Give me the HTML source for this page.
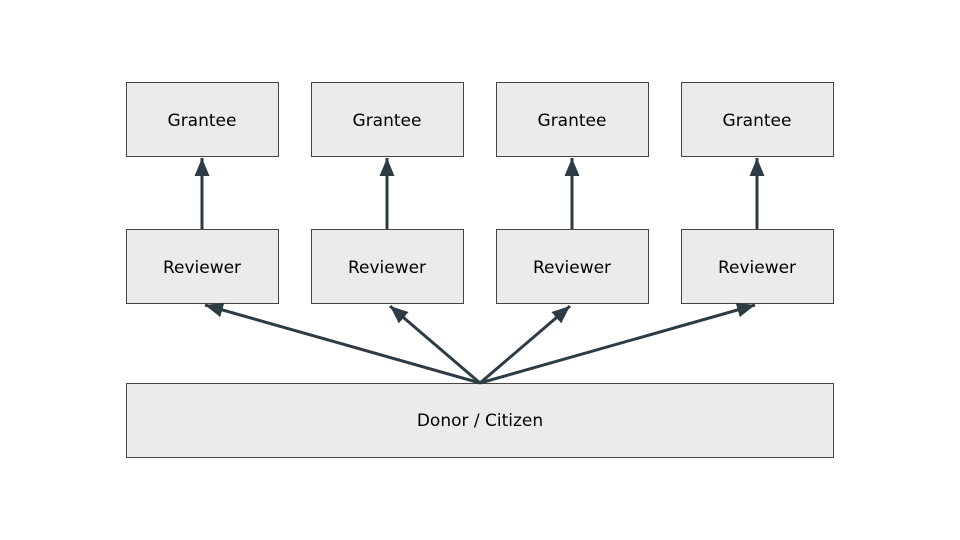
<!DOCTYPE html>
<html><head><meta charset="utf-8"><style>
html,body{margin:0;padding:0;background:#fff;width:960px;height:540px;overflow:hidden}
</style></head><body>
<svg width="960" height="540" xmlns="http://www.w3.org/2000/svg" font-family="'DejaVu Sans','Liberation Sans',sans-serif" font-size="17">
<g fill="#ebebeb" stroke="#444" stroke-width="1">
<rect x="126.5" y="82.5" width="152" height="74"/>
<rect x="311.5" y="82.5" width="152" height="74"/>
<rect x="496.5" y="82.5" width="152" height="74"/>
<rect x="681.5" y="82.5" width="152" height="74"/>
<rect x="126.5" y="229.5" width="152" height="74"/>
<rect x="311.5" y="229.5" width="152" height="74"/>
<rect x="496.5" y="229.5" width="152" height="74"/>
<rect x="681.5" y="229.5" width="152" height="74"/>
<rect x="126.5" y="383.5" width="707" height="74"/>
</g>
<g fill="#000" text-anchor="middle">
<text x="202" y="126">Grantee</text>
<text x="387" y="126">Grantee</text>
<text x="572" y="126">Grantee</text>
<text x="757" y="126">Grantee</text>
<text x="202" y="273">Reviewer</text>
<text x="387" y="273">Reviewer</text>
<text x="572" y="273">Reviewer</text>
<text x="757" y="273">Reviewer</text>
<text x="480" y="426">Donor / Citizen</text>
</g>
<defs><marker id="a" markerWidth="6" markerHeight="5" refX="6" refY="2.5" orient="auto" markerUnits="strokeWidth"><path d="M0,0L6,2.5L0,5z" fill="#2d3c44"/></marker></defs>
<g stroke="#2d3c44" stroke-width="3" marker-end="url(#a)">
<line x1="202" y1="229" x2="202" y2="158"/>
<line x1="387" y1="229" x2="387" y2="158"/>
<line x1="572" y1="229" x2="572" y2="158"/>
<line x1="757" y1="229" x2="757" y2="158"/>
<line x1="480" y1="383" x2="205" y2="305"/>
<line x1="480" y1="383" x2="390" y2="306"/>
<line x1="480" y1="383" x2="570" y2="306"/>
<line x1="480" y1="383" x2="755" y2="305"/>
</g>
</svg>
</body></html>
